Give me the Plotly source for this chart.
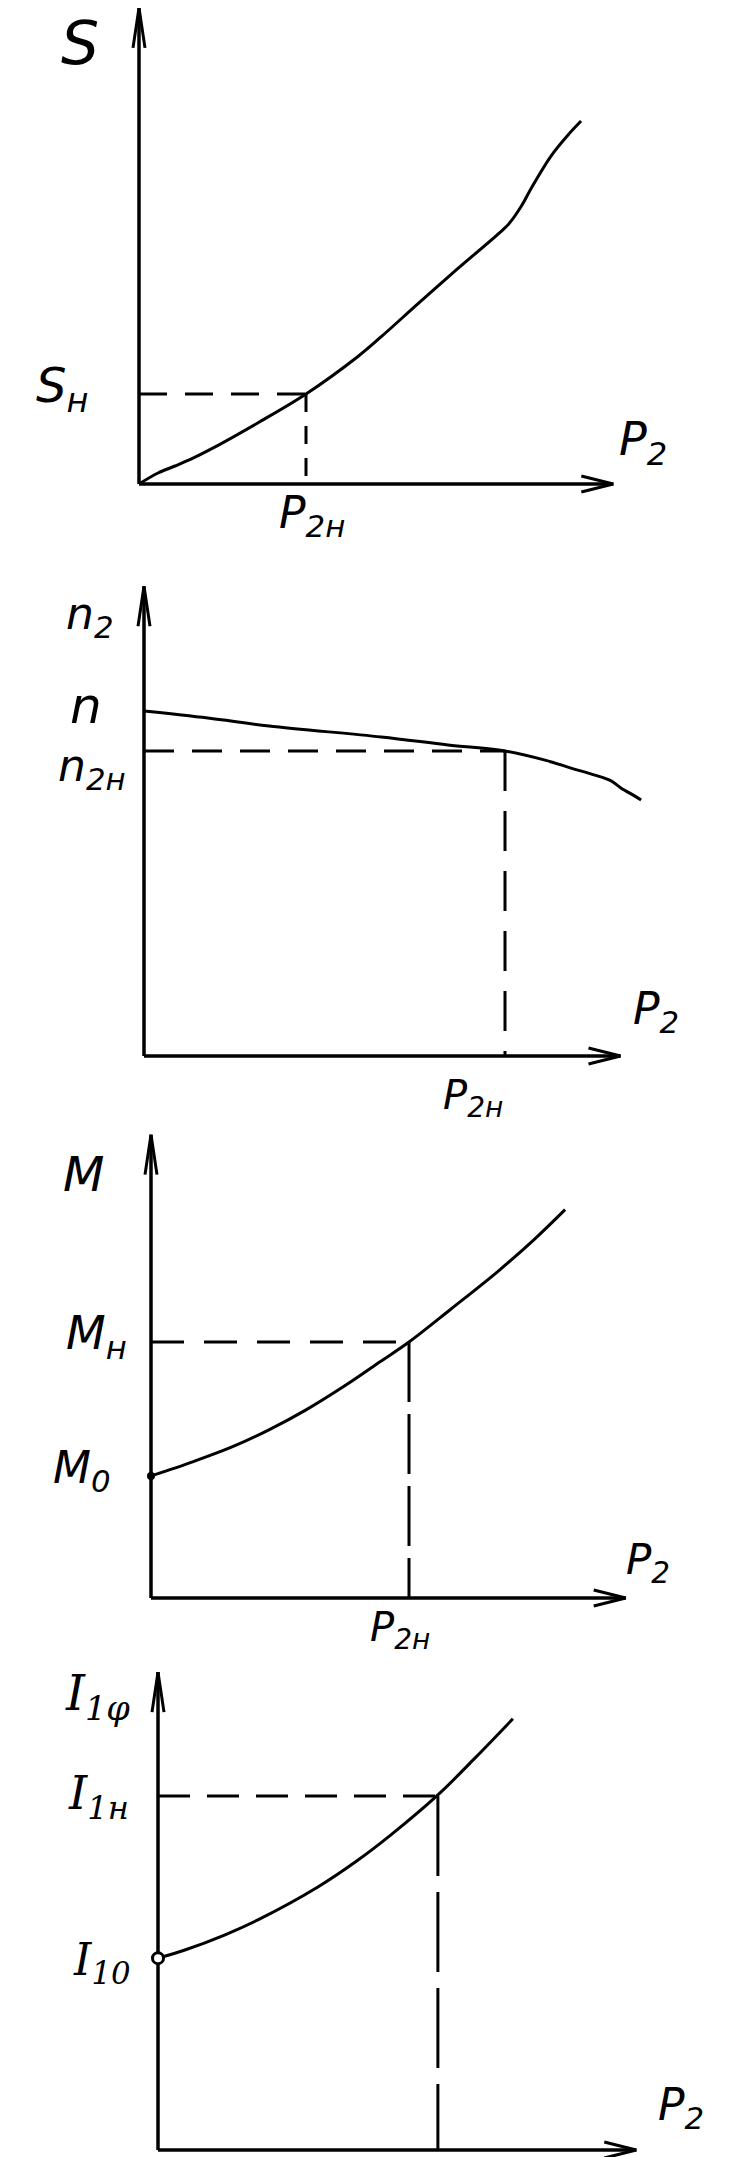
import plotly.graph_objects as go

W, H = 729, 2157

# ---------------- DATA (per-unit of rated values) ----------------
# Panel 1: slip S vs P2
s_p2 = [0, 0.114, 0.216, 0.317, 0.413, 0.713, 1.0, 1.311, 1.449, 1.671, 1.898, 2.174, 2.216,
        2.287, 2.353, 2.467, 2.569, 2.647]
s_val = [0, 0.122, 0.200, 0.281, 0.370, 0.681, 1.0, 1.417, 1.634, 2.004, 2.376, 2.816, 2.893,
         3.080, 3.300, 3.644, 3.878, 4.033]
s_rated = (1.0, 1.0)

# Panel 2: speed n2 vs P2
n_p2 = [0, 0.177, 0.346, 0.657, 0.842, 1.0, 1.111, 1.183, 1.249, 1.294, 1.321, 1.360, 1.377]
n_val = [1.131, 1.108, 1.082, 1.046, 1.020, 1.0, 0.970, 0.944, 0.921, 0.902, 0.879, 0.852, 0.839]
n_rated = (1.0, 1.0)

# Panel 3: torque M vs P2
m_p2 = [0, 0.167, 0.314, 0.457, 0.601, 0.748, 0.891, 1.0, 1.163, 1.345, 1.488, 1.605]
m_val = [0.477, 0.534, 0.590, 0.657, 0.735, 0.827, 0.925, 1.0, 1.129, 1.276, 1.403, 1.517]
m_rated = (1.0, 1.0)

# Panel 4: phase current I1 vs P2
i_p2 = [0, 0.095, 0.237, 0.353, 0.565, 0.707, 0.823, 0.989, 1.120, 1.254]
i_val = [0.542, 0.565, 0.608, 0.650, 0.743, 0.819, 0.890, 1.003, 1.107, 1.218]
i_rated = (0.989, 1.0)

# axis extents (data units) for each panel
axis_ext = [(2.84, 5.29), (1.32, 1.54), (1.84, 1.81), (1.69, 1.35)]

# ---------------- LAYOUT (pixel geometry of each panel) ----------------
geom = [
    dict(ox=131, oy=476, sx=167, sy=90),
    dict(ox=136, oy=1048, sx=361, sy=305),
    dict(ox=143, oy=1590, sx=258, sy=256),
    dict(ox=150, oy=2142, sx=283, sy=354),
]

curves = [(s_p2, s_val), (n_p2, n_val), (m_p2, m_val), (i_p2, i_val)]
rated = [s_rated, n_rated, m_rated, i_rated]
hdash = ["28px,18px", "30px,18px", "33px,20px", "32px,17px"]
vdash = ["18px,14px", "40px,20px", "60px,12px", "80px,16px"]

fig = go.Figure()
layout = dict(width=W, height=H, margin=dict(l=0, r=0, t=0, b=0),
              paper_bgcolor="white", plot_bgcolor="rgba(0,0,0,0)", showlegend=False)

K = "black"
for k, g in enumerate(geom):
    idx = "" if k == 0 else str(k + 1)
    xr = [(0 - g["ox"]) / g["sx"], (W - g["ox"]) / g["sx"]]
    yr = [(g["oy"] - H) / g["sy"], g["oy"] / g["sy"]]
    layout["xaxis" + idx] = dict(domain=[0, 1], range=xr, visible=False, fixedrange=True,
                                 anchor="y" + idx)
    layout["yaxis" + idx] = dict(domain=[0, 1], range=yr, visible=False, fixedrange=True,
                                 anchor="x" + idx)
    xa, ya = "x" + idx, "y" + idx
    xe, ye = axis_ext[k]
    # axes
    fig.add_trace(go.Scatter(x=[0, xe], y=[0, 0], mode="lines", line=dict(color=K, width=3.5),
                             xaxis=xa, yaxis=ya, hoverinfo="skip"))
    fig.add_trace(go.Scatter(x=[0, 0], y=[0, ye], mode="lines", line=dict(color=K, width=3.5),
                             xaxis=xa, yaxis=ya, hoverinfo="skip"))
    # arrowheads (open barbs)
    L, w = 32, 8
    fig.add_trace(go.Scatter(x=[xe - L / g["sx"], xe, xe - L / g["sx"]],
                             y=[w / g["sy"], 0, -w / g["sy"]], mode="lines",
                             line=dict(color=K, width=3), xaxis=xa, yaxis=ya, hoverinfo="skip"))
    L2, w2 = 40, 6
    fig.add_trace(go.Scatter(x=[-w2 / g["sx"], 0, w2 / g["sx"]],
                             y=[ye - L2 / g["sy"], ye, ye - L2 / g["sy"]], mode="lines",
                             line=dict(color=K, width=3), xaxis=xa, yaxis=ya, hoverinfo="skip"))
    # rated-point dashed guides
    rx, ry = rated[k]
    fig.add_trace(go.Scatter(x=[0, rx], y=[ry, ry], mode="lines",
                             line=dict(color=K, width=3, dash=hdash[k]),
                             xaxis=xa, yaxis=ya, hoverinfo="skip"))
    fig.add_trace(go.Scatter(x=[rx, rx], y=[ry, 0], mode="lines",
                             line=dict(color=K, width=3, dash=vdash[k]),
                             xaxis=xa, yaxis=ya, hoverinfo="skip"))
    # characteristic curve
    cx, cy = curves[k]
    fig.add_trace(go.Scatter(x=cx, y=cy, mode="lines",
                             line=dict(color=K, width=3, shape="spline", smoothing=1.0),
                             xaxis=xa, yaxis=ya, hoverinfo="skip"))

# starting-point markers (M0 filled dot, I10 open circle)
fig.add_trace(go.Scatter(x=[m_p2[0]], y=[m_val[0]], mode="markers",
                         marker=dict(color=K, size=8), xaxis="x3", yaxis="y3", hoverinfo="skip"))
fig.add_trace(go.Scatter(x=[i_p2[0]], y=[i_val[0]], mode="markers",
                         marker=dict(color="white", size=11, line=dict(color=K, width=3)),
                         xaxis="x4", yaxis="y4", hoverinfo="skip"))

fig.update_layout(**layout)

FONT = "DejaVu Sans"
SER = "DejaVu Serif"


def label(text, px, py, size, family=FONT):
    fig.add_annotation(text=text, x=px / W, y=1 - py / H, xref="paper", yref="paper",
                       showarrow=False, xanchor="center", yanchor="middle",
                       font=dict(family=family, size=size, color=K))


# Panel 1
label("<i>S</i>", 72, 35, 60)
label("<i>S<sub>н</sub></i>", 54, 381, 48)
label("<i>P<sub>2</sub></i>", 635, 434, 46)
label("<i>P<sub>2н</sub></i>", 304, 508, 44)
# Panel 2
label("<i>n<sub>2</sub></i>", 82, 609, 44)
label("<i>n</i>", 78, 698, 50)
label("<i>n<sub>2н</sub></i>", 84, 760, 44)
label("<i>P<sub>2</sub></i>", 648, 1004, 44)
label("<i>P<sub>2н</sub></i>", 465, 1090, 40)
# Panel 3
label("<i>M</i>", 75, 1166, 48)
label("<i>M<sub>н</sub></i>", 88, 1328, 46)
label("<i>M<sub>0</sub></i>", 74, 1462, 44)
label("<i>P<sub>2</sub></i>", 640, 1555, 42)
label("<i>P<sub>2н</sub></i>", 392, 1622, 40)
# Panel 4
label("<i>I<sub>1φ</sub></i>", 89, 1688, 48, SER)
label("<i>I<sub>1н</sub></i>", 90, 1788, 46, SER)
label("<i>I<sub>10</sub></i>", 94, 1954, 44, SER)
label("<i>P<sub>2</sub></i>", 673, 2099, 44)

fig.write_html("out.html", config={"displayModeBar": False})
